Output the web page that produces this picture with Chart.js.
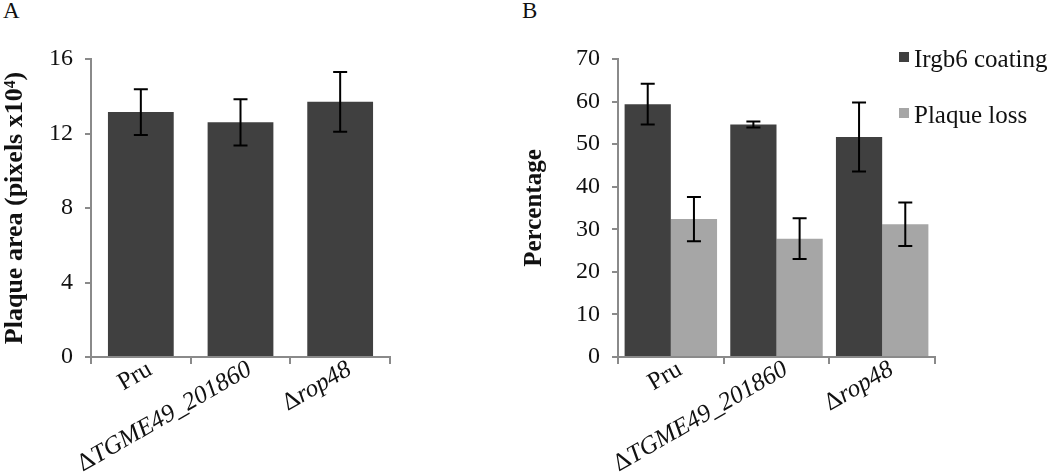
<!DOCTYPE html>
<html>
<head>
<meta charset="utf-8">
<script src="https://cdn.jsdelivr.net/npm/chart.js@4"></script>
<style>
  body { margin: 0; background: #fff; font-family: "Liberation Serif", "Times New Roman", serif; }
  #page { position: relative; width: 1050px; height: 473px; overflow: hidden; }
  .panel { position: absolute; top: 0; height: 473px; }
  .letter { position: absolute; top: -2px; font-size: 23px; color: #111; }
  .leg { position: absolute; left: 899px; font-size: 25px; color: #111; white-space: nowrap; }
  .leg i { display: inline-block; width: 10px; height: 10px; margin-right: 5px; vertical-align: 5px; }
</style>
</head>
<body>
<div id="page">
  <div class="letter" style="left:3px">A</div>
  <div class="letter" style="left:522px">B</div>
  <div class="panel" style="left:0;width:420px"><canvas id="chartA"></canvas></div>
  <div class="panel" style="left:520px;width:530px"><canvas id="chartB"></canvas></div>
  <div id="legendB"></div>
</div>
<script>
// categories (Δ prefix is upright, the rest italic, except Pru)
const strains = ['Pru', 'ΔTGME49_201860', 'Δrop48'];

// panel A: plaque area (pixels x10^4)
const plaqueArea = [13.15, 12.6, 13.7];
const plaqueAreaErr = [1.23, 1.24, 1.6];
const areaTicks = [0, 4, 8, 12, 16];

// panel B: percentages
const seriesNames = ['Irgb6 coating', 'Plaque loss'];
const irgb6Coating = [59.4, 54.6, 51.7];
const irgb6CoatingErr = [4.8, 0.7, 8.1];
const plaqueLoss = [32.4, 27.8, 31.2];
const plaqueLossErr = [5.2, 4.8, 5.1];
const pctTicks = [0, 10, 20, 30, 40, 50, 60, 70];

const DARK = '#404040', LIGHT = '#a6a6a6', AXIS = '#8a8a8a';
const SERIF = '"Liberation Serif", "Times New Roman", serif';

// error bars drawn from dataset.errors
const errorBars = {
    id: 'errorBars',
    afterDatasetsDraw(chart) {
        const c = chart.ctx, ys = chart.scales.y;
        c.save();
        c.strokeStyle = '#000';
        c.lineWidth = 2;
        chart.data.datasets.forEach((ds, d) => {
            const meta = chart.getDatasetMeta(d);
            meta.data.forEach((bar, i) => {
                const v = ds.data[i], e = ds.errors[i];
                const top = ys.getPixelForValue(v + e), bot = ys.getPixelForValue(v - e);
                c.beginPath();
                c.moveTo(bar.x, top); c.lineTo(bar.x, bot);
                c.moveTo(bar.x - 7, top); c.lineTo(bar.x + 7, top);
                c.moveTo(bar.x - 7, bot); c.lineTo(bar.x + 7, bot);
                c.stroke();
            });
        });
        c.restore();
    }
};

// rotated x labels with italic gene names
const slantLabels = {
    id: 'slantLabels',
    afterDraw(chart) {
        const c = chart.ctx, xs = chart.scales.x;
        c.save();
        c.fillStyle = '#111';
        c.textBaseline = 'top';
        strains.forEach((lab, i) => {
            const parts = lab[0] === 'Δ' ? [['Δ', false], [lab.slice(1), true]] : [[lab, false]];
            const fonts = parts.map(p => (p[1] ? 'italic ' : '') + '25px ' + SERIF);
            let total = 0;
            const widths = parts.map((p, k) => { c.font = fonts[k]; const w = c.measureText(p[0]).width; total += w; return w; });
            c.save();
            c.translate(xs.getPixelForValue(i) + 3, xs.top);
            c.rotate(-30 * Math.PI / 180);
            let x = -total;
            parts.forEach((p, k) => { c.font = fonts[k]; c.textAlign = 'left'; c.fillText(p[0], x, 0); x += widths[k]; });
            c.restore();
        });
        c.restore();
    }
};

const makeOptions = (yMax, ticks, title, titleSize, yWidth, padRight) => ({
    responsive: true,
    maintainAspectRatio: false,
    animation: false,
    layout: { padding: { top: 59, right: padRight, left: 0, bottom: 0 } },
    plugins: { legend: { display: false }, tooltip: { enabled: false } },
    scales: {
        x: {
            grid: { display: true, offset: true, drawOnChartArea: false, drawTicks: true, tickLength: 7, color: AXIS, lineWidth: 2 },
            border: { display: true, color: AXIS, width: 2 },
            ticks: { display: false },
            afterFit: s => { s.height = 473 - 357; }
        },
        y: {
            min: 0, max: yMax,
            grid: { drawOnChartArea: false, drawTicks: true, tickLength: 6, color: AXIS, lineWidth: 2 },
            border: { display: true, color: AXIS, width: 2 },
            afterBuildTicks: s => { s.ticks = ticks.map(v => ({ value: v })); },
            ticks: { color: '#111', padding: 12, font: { family: SERIF, size: 24 } },
            title: { display: true, text: title, color: '#111', padding: { top: 0, bottom: 0 }, font: { family: SERIF, size: titleSize, weight: 'bold' } },
            afterFit: s => { s.width = yWidth; }
        }
    }
});

new Chart(document.getElementById('chartA'), {
    type: 'bar',
    data: {
        labels: strains,
        datasets: [{ label: 'Plaque area', data: plaqueArea, errors: plaqueAreaErr, backgroundColor: DARK,
                     barPercentage: 0.66, categoryPercentage: 1 }]
    },
    options: makeOptions(16, areaTicks, 'Plaque area (pixels x10⁴)', 26, 91, 30),
    plugins: [errorBars, slantLabels]
});

new Chart(document.getElementById('chartB'), {
    type: 'bar',
    data: {
        labels: strains,
        datasets: [
            { label: seriesNames[0], data: irgb6Coating, errors: irgb6CoatingErr, backgroundColor: DARK, barPercentage: 1, categoryPercentage: 0.875 },
            { label: seriesNames[1], data: plaqueLoss, errors: plaqueLossErr, backgroundColor: LIGHT, barPercentage: 1, categoryPercentage: 0.875 }
        ]
    },
    options: makeOptions(70, pctTicks, 'Percentage', 25, 98, 115),
    plugins: [errorBars, slantLabels]
});

// legend for panel B
const legend = document.getElementById('legendB');
[DARK, LIGHT].forEach((col, k) => {
    const row = document.createElement('div');
    row.className = 'leg';
    row.style.top = (45 + k * 56) + 'px';
    row.innerHTML = '<i style="background:' + col + '"></i>' + seriesNames[k];
    legend.appendChild(row);
});
</script>
</body>
</html>
